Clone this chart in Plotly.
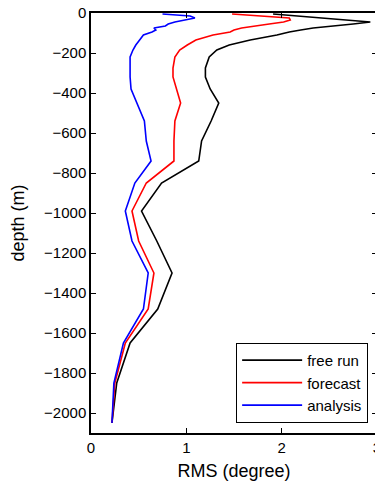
import plotly.graph_objects as go

# model depth levels (m), shared by all three profiles
depth = [-5, -15, -25, -35, -45, -55, -65, -75, -85, -95, -110, -135, -160, -185,
         -220, -275, -320, -380, -450, -540, -640, -740, -850, -990, -1140, -1300,
         -1480, -1650, -1850, -2050]

free_run = [1.91, 2.18, 2.46, 2.67, 2.93, 2.75, 2.50, 2.33, 2.20, 2.08, 1.95, 1.67,
            1.45, 1.32, 1.24, 1.20, 1.20, 1.25, 1.34, 1.26, 1.16, 1.13, 0.74, 0.53,
            0.69, 0.85, 0.70, 0.41, 0.27, 0.22]

forecast = [1.48, 1.79, 2.08, 2.09, 2.02, 1.87, 1.73, 1.58, 1.50, 1.46, 1.28, 1.10,
            1.01, 0.93, 0.88, 0.86, 0.86, 0.90, 0.94, 0.88, 0.87, 0.87, 0.58, 0.43,
            0.50, 0.66, 0.60, 0.36, 0.25, 0.22]

analysis = [0.75, 1.04, 1.09, 0.97, 0.88, 0.81, 0.78, 0.66, 0.68, 0.64, 0.55, 0.51,
            0.47, 0.44, 0.41, 0.41, 0.41, 0.42, 0.48, 0.56, 0.58, 0.63, 0.46, 0.36,
            0.43, 0.60, 0.55, 0.34, 0.24, 0.22]

x_ticks = [0, 1, 2, 3]
y_ticks = [0, -200, -400, -600, -800, -1000, -1200, -1400, -1600, -1800, -2000]

series = (
    ("free run", free_run, "#000000"),
    ("forecast", forecast, "#ff0000"),
    ("analysis", analysis, "#0000ff"),
)

fig = go.Figure()
for name, vals, color in series:
    fig.add_trace(go.Scatter(
        x=vals, y=depth, mode="lines", name=name,
        line=dict(color=color, width=1.6),
    ))

axis_common = dict(
    showline=True, linecolor="#000000", linewidth=1.5, mirror="ticks",
    ticks="inside", ticklen=5, tickcolor="#000000", tickwidth=1,
    showgrid=False, zeroline=False, automargin=False,
    ticklabeloverflow="allow",
    tickfont=dict(family="Liberation Sans, Arial, sans-serif", size=15, color="#000000"),
)

# page body has an 8px default margin, so the figure is sized to fit inside it
fig.update_layout(
    width=375, height=473,
    margin=dict(l=83, r=6, t=5, b=48),
    paper_bgcolor="#ffffff", plot_bgcolor="#ffffff",
    font=dict(family="Liberation Sans, Arial, sans-serif", size=15, color="#000000"),
    showlegend=True,
    legend=dict(
        x=0.969, y=0.024, xanchor="right", yanchor="bottom",
        bgcolor="#ffffff", bordercolor="#000000", borderwidth=1,
        font=dict(size=15), tracegroupgap=0, itemwidth=60,
    ),
)
fig.update_xaxes(
    range=[0, 3], tickvals=x_ticks,
    title=dict(text="RMS (degree)", standoff=10),
    **axis_common,
)
fig.update_yaxes(
    range=[-2100, 0], tickvals=y_ticks,
    title=dict(text="depth (m)", standoff=20),
    **axis_common,
)

fig.write_html("out.html")
